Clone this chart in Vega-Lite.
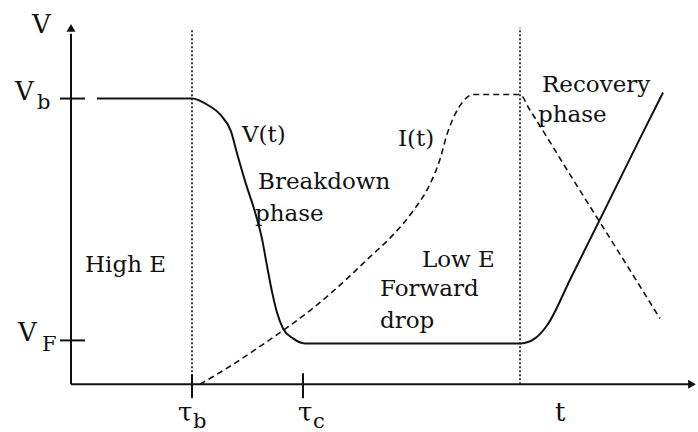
{
  "$schema": "https://vega.github.io/schema/vega-lite/v6.json",
  "width": 698,
  "height": 432,
  "autosize": {"type": "fit", "contains": "padding"},
  "padding": 0,
  "background": "white",
  "config": {"view": {"stroke": null}},
  "datasets": {
    "rules": [
      {"t": 0, "v": 0, "t2": 0, "v2": 352, "kind": "solid"},
      {"t": 0, "v": 0, "t2": 620, "v2": 0, "kind": "solid"},
      {"t": -11, "v": 287, "t2": 14, "v2": 287, "kind": "solid"},
      {"t": -11, "v": 44, "t2": 14, "v2": 44, "kind": "solid"},
      {"t": 121, "v": -14, "t2": 121, "v2": 10, "kind": "solid"},
      {"t": 232, "v": -14, "t2": 232, "v2": 11, "kind": "solid"},
      {"t": 121, "v": 0, "t2": 121, "v2": 356, "kind": "dotted"},
      {"t": 449, "v": 0, "t2": 449, "v2": 358, "kind": "dotted"}
    ],
    "arrows": [
      {"t": 0, "v": 358, "dir": "up"},
      {"t": 621, "v": 0, "dir": "right"}
    ],
    "curves": [
      {"series": "V", "t": 26, "v": 287},
      {"series": "V", "t": 121, "v": 287},
      {"series": "V", "t": 136, "v": 281},
      {"series": "V", "t": 150, "v": 270},
      {"series": "V", "t": 160, "v": 254},
      {"series": "V", "t": 166, "v": 232},
      {"series": "V", "t": 175, "v": 201},
      {"series": "V", "t": 184, "v": 173},
      {"series": "V", "t": 191, "v": 146},
      {"series": "V", "t": 196, "v": 119},
      {"series": "V", "t": 201, "v": 93},
      {"series": "V", "t": 206, "v": 72},
      {"series": "V", "t": 212, "v": 56},
      {"series": "V", "t": 222, "v": 46},
      {"series": "V", "t": 234, "v": 41},
      {"series": "V", "t": 450, "v": 41},
      {"series": "V", "t": 464, "v": 46},
      {"series": "V", "t": 476, "v": 59},
      {"series": "V", "t": 500, "v": 107},
      {"series": "V", "t": 540, "v": 188},
      {"series": "V", "t": 570, "v": 249},
      {"series": "V", "t": 592, "v": 293},
      {"series": "I", "t": 129, "v": 0},
      {"series": "I", "t": 159, "v": 18},
      {"series": "I", "t": 189, "v": 38},
      {"series": "I", "t": 212, "v": 54},
      {"series": "I", "t": 239, "v": 74},
      {"series": "I", "t": 276, "v": 106},
      {"series": "I", "t": 299, "v": 128},
      {"series": "I", "t": 322, "v": 150},
      {"series": "I", "t": 342, "v": 174},
      {"series": "I", "t": 359, "v": 201},
      {"series": "I", "t": 369, "v": 226},
      {"series": "I", "t": 376, "v": 251},
      {"series": "I", "t": 384, "v": 271},
      {"series": "I", "t": 392, "v": 284},
      {"series": "I", "t": 402, "v": 291},
      {"series": "I", "t": 449, "v": 291},
      {"series": "I", "t": 458, "v": 277},
      {"series": "I", "t": 500, "v": 209},
      {"series": "I", "t": 550, "v": 129},
      {"series": "I", "t": 589, "v": 66}
    ],
    "mainLabels": [
      {"t": -39, "v": 353, "text": "V"},
      {"t": -56, "v": 286, "text": "V"},
      {"t": -53, "v": 43, "text": "V"},
      {"t": 107, "v": -37, "text": "τ"},
      {"t": 227, "v": -37, "text": "τ"},
      {"t": 484, "v": -37, "text": "t"}
    ],
    "subLabels": [
      {"t": -34, "v": 276, "text": "b"},
      {"t": -29, "v": 33, "text": "F"},
      {"t": 122, "v": -44, "text": "b"},
      {"t": 242, "v": -44, "text": "c"}
    ],
    "notes": [
      {"t": 14, "v": 113, "text": "High E"},
      {"t": 171, "v": 243, "text": "V(t)"},
      {"t": 187, "v": 196, "text": "Breakdown"},
      {"t": 184, "v": 164, "text": "phase"},
      {"t": 327, "v": 239, "text": "I(t)"},
      {"t": 351, "v": 118, "text": "Low  E"},
      {"t": 309, "v": 89, "text": "Forward"},
      {"t": 309, "v": 56, "text": "drop"},
      {"t": 471, "v": 294, "text": "Recovery"},
      {"t": 467, "v": 263, "text": "phase"}
    ]
  },
  "layer": [
    {
      "data": {"name": "rules"},
      "transform": [{"filter": "datum.kind === 'solid'"}],
      "mark": {"type": "rule", "color": "#111", "strokeWidth": 2},
      "encoding": {
        "x": {"field": "t", "type": "quantitative", "scale": {"domain": [-71, 627], "nice": false, "zero": false}, "axis": null},
        "y": {"field": "v", "type": "quantitative", "scale": {"domain": [-46, 386], "nice": false, "zero": false}, "axis": null},
        "x2": {"field": "t2"},
        "y2": {"field": "v2"}
      }
    },
    {
      "data": {"name": "rules"},
      "transform": [{"filter": "datum.kind === 'dotted'"}],
      "mark": {"type": "rule", "color": "#111", "strokeWidth": 1.6, "strokeDash": [2, 2]},
      "encoding": {
        "x": {"field": "t", "type": "quantitative", "axis": null},
        "y": {"field": "v", "type": "quantitative", "axis": null},
        "x2": {"field": "t2"},
        "y2": {"field": "v2"}
      }
    },
    {
      "data": {"name": "curves"},
      "transform": [{"filter": "datum.series === 'V'"}],
      "mark": {"type": "line", "color": "#111", "strokeWidth": 2, "interpolate": "monotone"},
      "encoding": {
        "x": {"field": "t", "type": "quantitative", "axis": null},
        "y": {"field": "v", "type": "quantitative", "axis": null}
      }
    },
    {
      "data": {"name": "curves"},
      "transform": [{"filter": "datum.series === 'I'"}],
      "mark": {"type": "line", "color": "#111", "strokeWidth": 1.6, "strokeDash": [6, 4], "interpolate": "monotone"},
      "encoding": {
        "x": {"field": "t", "type": "quantitative", "axis": null},
        "y": {"field": "v", "type": "quantitative", "axis": null}
      }
    },
    {
      "data": {"name": "arrows"},
      "transform": [{"filter": "datum.dir === 'up'"}],
      "mark": {"type": "point", "shape": "triangle-up", "filled": true, "color": "#111", "size": 80, "opacity": 1},
      "encoding": {
        "x": {"field": "t", "type": "quantitative", "axis": null},
        "y": {"field": "v", "type": "quantitative", "axis": null}
      }
    },
    {
      "data": {"name": "arrows"},
      "transform": [{"filter": "datum.dir === 'right'"}],
      "mark": {"type": "point", "shape": "triangle-right", "filled": true, "color": "#111", "size": 80, "opacity": 1},
      "encoding": {
        "x": {"field": "t", "type": "quantitative", "axis": null},
        "y": {"field": "v", "type": "quantitative", "axis": null}
      }
    },
    {
      "data": {"name": "mainLabels"},
      "mark": {"type": "text", "align": "left", "baseline": "alphabetic", "font": "DejaVu Serif", "fontSize": 26, "color": "#111"},
      "encoding": {
        "x": {"field": "t", "type": "quantitative", "axis": null},
        "y": {"field": "v", "type": "quantitative", "axis": null},
        "text": {"field": "text"}
      }
    },
    {
      "data": {"name": "subLabels"},
      "mark": {"type": "text", "align": "left", "baseline": "alphabetic", "font": "DejaVu Serif", "fontSize": 21, "color": "#111"},
      "encoding": {
        "x": {"field": "t", "type": "quantitative", "axis": null},
        "y": {"field": "v", "type": "quantitative", "axis": null},
        "text": {"field": "text"}
      }
    },
    {
      "data": {"name": "notes"},
      "mark": {"type": "text", "align": "left", "baseline": "alphabetic", "font": "DejaVu Serif", "fontSize": 23, "color": "#111"},
      "encoding": {
        "x": {"field": "t", "type": "quantitative", "axis": null},
        "y": {"field": "v", "type": "quantitative", "axis": null},
        "text": {"field": "text"}
      }
    }
  ]
}
